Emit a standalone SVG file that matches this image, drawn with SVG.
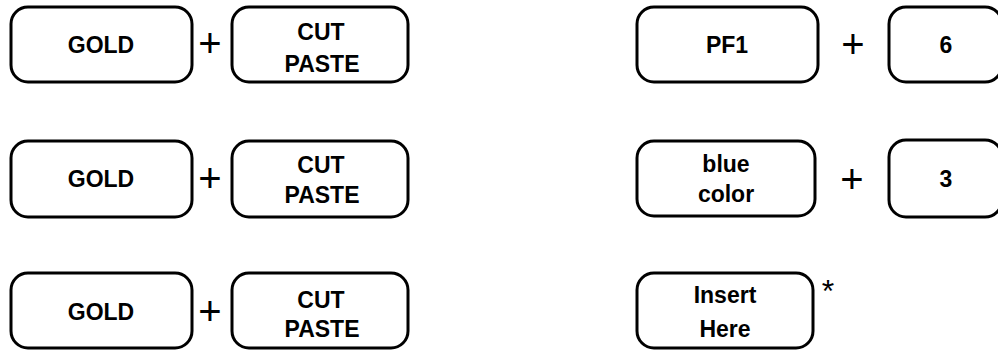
<svg xmlns="http://www.w3.org/2000/svg" width="998" height="350" viewBox="0 0 998 350">
<style>
.key{fill:#fff;stroke:#000;stroke-width:3}
.lbl{font-family:"Liberation Sans",Arial,sans-serif;font-weight:bold;font-size:23px;fill:#000;text-anchor:middle}
.op{font-family:"Liberation Sans",Arial,sans-serif;font-size:40px;fill:#000;text-anchor:middle}
.ast{font-family:"Liberation Sans",Arial,sans-serif;font-size:32px;fill:#000;text-anchor:middle}
</style>
<rect width="998" height="350" fill="#fff"/>
<g id="gold1"><rect class="key" x="11" y="7" width="181" height="75" rx="17"/><text class="lbl" x="101" y="53">GOLD</text></g>
<g id="cutpaste1"><rect class="key" x="232" y="7" width="176" height="75" rx="17"/><text class="lbl" x="321" y="40">CUT</text><text class="lbl" x="322" y="72">PASTE</text></g>
<g id="pf1"><rect class="key" x="637" y="7" width="181" height="75" rx="17"/><text class="lbl" x="727" y="53">PF1</text></g>
<g id="key6"><rect class="key" x="889" y="7" width="113" height="75" rx="17"/><text class="lbl" x="946" y="53">6</text></g>

<g id="gold2"><rect class="key" x="11" y="141" width="181" height="76" rx="17"/><text class="lbl" x="101" y="187">GOLD</text></g>
<g id="cutpaste2"><rect class="key" x="232" y="141" width="176" height="76" rx="17"/><text class="lbl" x="321" y="173">CUT</text><text class="lbl" x="322" y="203">PASTE</text></g>
<g id="bluecolor"><rect class="key" x="637" y="141" width="178" height="75" rx="17"/><text class="lbl" x="726" y="172">blue</text><text class="lbl" x="726" y="202">color</text></g>
<g id="key3"><rect class="key" x="889" y="140" width="113" height="77" rx="17"/><text class="lbl" x="946" y="187">3</text></g>

<g id="gold3"><rect class="key" x="11" y="273" width="181" height="75" rx="17"/><text class="lbl" x="101" y="320">GOLD</text></g>
<g id="cutpaste3"><rect class="key" x="232" y="273" width="176" height="75" rx="17"/><text class="lbl" x="321" y="308">CUT</text><text class="lbl" x="322" y="337">PASTE</text></g>
<g id="inserthere"><rect class="key" x="637" y="273" width="176" height="75" rx="17"/><text class="lbl" x="725" y="303">Insert</text><text class="lbl" x="725" y="337">Here</text><text class="ast" x="828" y="302">*</text></g>

<g id="connectors">
<text class="op" x="210" y="57">+</text>
<text class="op" x="853" y="58">+</text>
<text class="op" x="210" y="192">+</text>
<text class="op" x="852" y="193">+</text>
<text class="op" x="210" y="325">+</text>
</g>
</svg>
